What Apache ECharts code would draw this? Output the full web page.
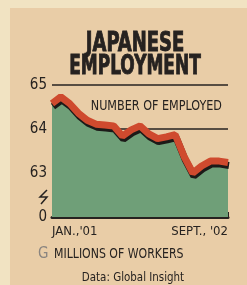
<!DOCTYPE html>
<html>
<head>
<meta charset="utf-8">
<script src="https://cdn.jsdelivr.net/npm/echarts@6/dist/echarts.min.js"></script>
<style>
  html, body { margin: 0; padding: 0; background: #f1e3c2; }
  #chart { width: 247px; height: 285px; }
</style>
</head>
<body>
<div id="chart"></div>
<script>
// monthly, Jan 2001 .. Sept 2002
const months = [
  "JAN.,'01", "FEB.,'01", "MAR.,'01", "APR.,'01", "MAY,'01", "JUNE,'01", "JULY,'01",
  "AUG.,'01", "SEPT.,'01", "OCT.,'01", "NOV.,'01", "DEC.,'01", "JAN.,'02", "FEB.,'02",
  "MAR.,'02", "APR.,'02", "MAY,'02", "JUNE,'02", "JULY,'02", "AUG.,'02", "SEPT., '02"
]
// millions of workers
const employed = [
  64.58, 64.73, 64.58, 64.36, 64.2, 64.11, 64.09, 64.07, 63.84, 63.98, 64.07,
  63.89, 63.78, 63.82, 63.87, 63.38, 63.0, 63.16, 63.27, 63.27, 63.24
]
const yTicks = [62, 63, 64, 65] // 62 stands for the broken-axis "0"

const narrow = "'DejaVu Sans Condensed', 'Liberation Sans Narrow', sans-serif"
const ink = '#262220'

const chart = echarts.init(document.getElementById('chart'))

const option = {
  backgroundColor: '#f1e3c2',
  animation: false,
  grid: { left: 52, right: 19, top: 85, bottom: 68 },
  xAxis: {
    type: 'category',
    data: months,
    boundaryGap: false,
    axisLine: { lineStyle: { color: ink, width: 3 } },
    axisTick: { inside: true, length: 5, lineStyle: { color: ink, width: 1 } },
    axisLabel: {
      interval: (i) => i === 0 || i === months.length - 1,
      alignMinLabel: 'left',
      alignMaxLabel: 'right',
      margin: 8,
      color: ink,
      fontFamily: narrow,
      fontSize: 13
    }
  },
  yAxis: {
    type: 'value',
    min: yTicks[0],
    max: yTicks[yTicks.length - 1],
    interval: 1,
    axisLine: { show: false },
    axisTick: { show: false },
    axisLabel: {
      margin: 5,
      color: ink,
      fontFamily: narrow,
      fontSize: 15,
      formatter: (v) => (v === yTicks[0] ? '0' : String(v))
    },
    splitLine: {
      lineStyle: { color: ink, width: 1.5 }
    }
  },
  series: [
    {
      name: 'Employed',
      type: 'line',
      data: employed,
      symbol: 'none',
      lineStyle: {
        color: '#cf4a2e',
        width: 7,
        shadowColor: '#1c1a18',
        shadowBlur: 0,
        shadowOffsetX: 1,
        shadowOffsetY: 3
      },
      areaStyle: { color: '#6f9f78', opacity: 1 }
    }
  ],
  graphic: [
    { type: 'rect', left: 10, top: 8, z: -10,
      shape: { width: 237, height: 277 }, style: { fill: '#e9cda7' } },
    // condensed headline: squeeze horizontally, thicken with a stroke
    { type: 'text', x: 135, y: 44, scaleX: 0.74, style: {
      text: 'JAPANESE', fontFamily: narrow, fontWeight: 'bold', fontSize: 27,
      fill: ink, stroke: ink, lineWidth: 0.9, align: 'center', verticalAlign: 'middle' } },
    { type: 'text', x: 135, y: 67, scaleX: 0.7, style: {
      text: 'EMPLOYMENT', fontFamily: narrow, fontWeight: 'bold', fontSize: 27,
      fill: ink, stroke: ink, lineWidth: 0.9, align: 'center', verticalAlign: 'middle' } },
    { type: 'text', x: 222, y: 106, z: 10, scaleX: 0.89, style: {
      text: 'NUMBER OF EMPLOYED', fontFamily: narrow, fontSize: 14,
      fill: ink, align: 'right', verticalAlign: 'middle' } },
    { type: 'polyline', z: 10, shape: { points: [[47, 190], [40, 197], [47, 197], [41, 204]] },
      style: { stroke: ink, lineWidth: 1.5, fill: null } },
    { type: 'text', x: 38, y: 254, style: {
      text: 'G', fontFamily: narrow, fontSize: 15, fill: '#8a8580', verticalAlign: 'middle' } },
    { type: 'text', x: 54, y: 254, scaleX: 0.87, style: {
      text: 'MILLIONS OF WORKERS', fontFamily: narrow, fontSize: 14,
      fill: ink, verticalAlign: 'middle' } },
    { type: 'text', x: 133, y: 278, scaleX: 0.88, style: {
      text: 'Data: Global Insight', fontFamily: narrow, fontSize: 13,
      fill: ink, align: 'center', verticalAlign: 'middle' } }
  ]
}

chart.setOption(option)
</script>
</body>
</html>
